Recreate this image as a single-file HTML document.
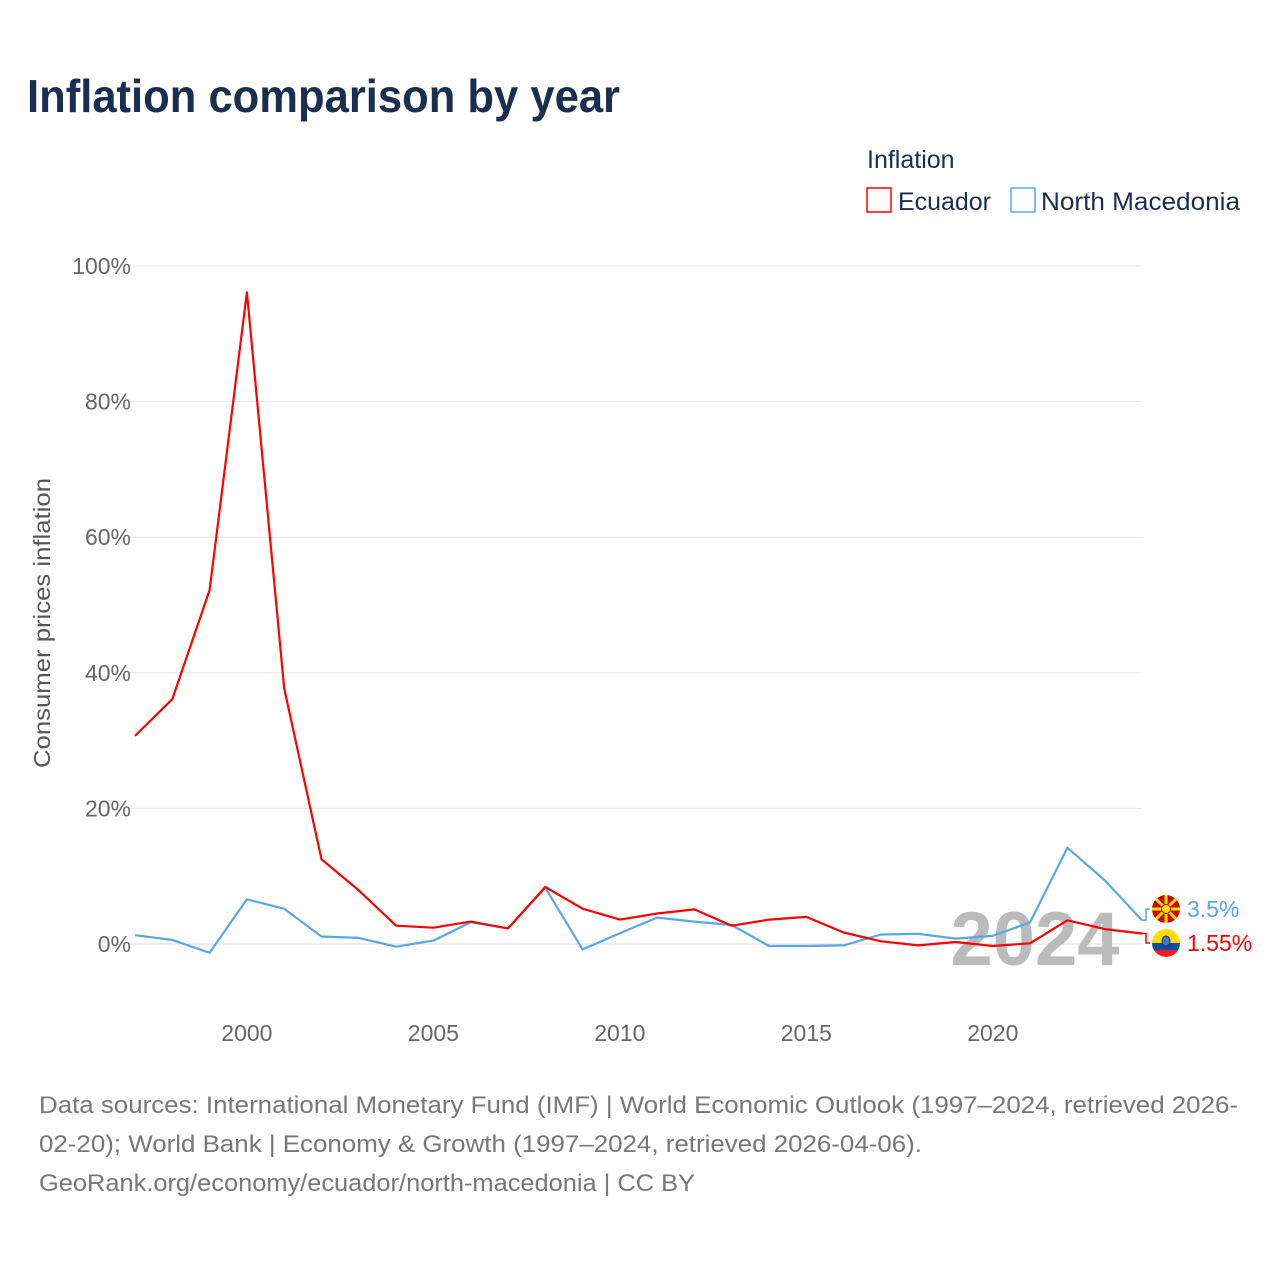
<!DOCTYPE html>
<html><head><meta charset="utf-8"><style>
body{margin:0;background:#fff;font-family:"Liberation Sans",sans-serif}
</style></head><body>
<svg width="1280" height="1280" xmlns="http://www.w3.org/2000/svg" font-family="Liberation Sans, sans-serif">
<rect width="1280" height="1280" fill="#fff"/>
<text x="27" y="112" font-size="46" font-weight="bold" fill="#1a2f50" textLength="593" lengthAdjust="spacingAndGlyphs">Inflation comparison by year</text>
<text x="867" y="168" font-size="25" fill="#1a2f50">Inflation</text>
<g><rect x="867" y="188" width="24" height="24" fill="none" stroke="#ff0000" stroke-width="1.5"/><text x="898" y="210" font-size="25" fill="#1a2f50" textLength="93" lengthAdjust="spacingAndGlyphs">Ecuador</text></g>
<g><rect x="1011" y="188" width="24" height="24" fill="none" stroke="#5aa6ea" stroke-width="1.5"/><text x="1041" y="210" font-size="25" fill="#1a2f50" textLength="199" lengthAdjust="spacingAndGlyphs">North Macedonia</text></g>
<text transform="translate(50,623) rotate(-90)" text-anchor="middle" font-size="23" fill="#555" textLength="290" lengthAdjust="spacingAndGlyphs">Consumer prices inflation</text>
<g id="grid"></g><g id="ylab"></g><g id="xlab"></g>
<text x="1035" y="965" text-anchor="middle" font-size="76" font-weight="bold" fill="#bbb">2024</text>
<g id="lines"></g>
<g><circle cx="1166" cy="909" r="14" fill="#d20000"/><g stroke="#ffe600" stroke-width="3"><line x1="1152" y1="909" x2="1180" y2="909"/><line x1="1166" y1="895" x2="1166" y2="923"/><line x1="1156" y1="899" x2="1176" y2="919"/><line x1="1176" y1="899" x2="1156" y2="919"/></g><circle cx="1166" cy="909" r="4.5" fill="#ffe600" stroke="#d20000" stroke-width="1"/></g>
<g><clipPath id="ec"><circle cx="1166" cy="943" r="14"/></clipPath><g clip-path="url(#ec)"><rect x="1150" y="929" width="32" height="14" fill="#ffdd00"/><rect x="1150" y="943" width="32" height="7" fill="#034ea2"/><rect x="1150" y="950" width="32" height="8" fill="#ed1c24"/></g><ellipse cx="1166" cy="941" rx="4" ry="5" fill="#3a7bd5" stroke="#333" stroke-width="1"/></g>
<text x="1187" y="917" font-size="23" fill="#5aa6ea">3.5%</text>
<text x="1187" y="951" font-size="23" fill="#ff0000">1.55%</text>
<g font-size="24" fill="#777">
<text x="39" y="1113" textLength="1199" lengthAdjust="spacingAndGlyphs">Data sources: International Monetary Fund (IMF) | World Economic Outlook (1997–2024, retrieved 2026-</text>
<text x="39" y="1152" textLength="883" lengthAdjust="spacingAndGlyphs">02-20); World Bank | Economy &amp; Growth (1997–2024, retrieved 2026-04-06).</text>
<text x="39" y="1191" textLength="656" lengthAdjust="spacingAndGlyphs">GeoRank.org/economy/ecuador/north-macedonia | CC BY</text>
</g>
</svg>
<script>
const years=[1997,1998,1999,2000,2001,2002,2003,2004,2005,2006,2007,2008,2009,2010,2011,2012,2013,2014,2015,2016,2017,2018,2019,2020,2021,2022,2023,2024];
const ecuador=[30.7,36.1,52.2,96.1,37.7,12.5,7.9,2.7,2.4,3.3,2.3,8.4,5.2,3.6,4.5,5.1,2.7,3.6,4.0,1.7,0.4,-0.2,0.3,-0.3,0.1,3.5,2.2,1.55];
const macedonia=[1.3,0.6,-1.3,6.6,5.2,1.1,0.9,-0.4,0.5,3.2,2.3,8.3,-0.8,1.6,3.9,3.3,2.8,-0.3,-0.3,-0.2,1.4,1.5,0.8,1.2,3.2,14.2,9.4,3.5];
const yTicks=[0,20,40,60,80,100];
const xTicks=[2000,2005,2010,2015,2020];
const NS="http://www.w3.org/2000/svg";
const X=y=>135+(y-1997)*(1142-135)/27;
const Y=v=>944-v*6.78;
function mk(t,a,p){const e=document.createElementNS(NS,t);for(const k in a)e.setAttribute(k,a[k]);document.getElementById(p).appendChild(e);return e;}
yTicks.forEach(t=>{
 const l=mk('line',{x1:128,x2:1142,y1:Y(t),y2:Y(t),stroke:t===0?'#ddd':'#e6e6e6','stroke-width':1},'grid');
 
 
 const tx=mk('text',{x:131,y:Y(t)+8,'text-anchor':'end','font-size':23,fill:'#666'},'ylab');
 tx.textContent=t+'%';
 
 
});
xTicks.forEach(t=>{
 const tx=mk('text',{x:X(t),y:1041,'text-anchor':'middle','font-size':23,fill:'#666'},'xlab');
 tx.textContent=t;
 
 
});
function line(vals,color,name){
 const d=vals.map((v,i)=>(i?'L':'M')+X(years[i]).toFixed(1)+','+Y(v).toFixed(1)).join(' ');
 const p=mk('path',{d:d,fill:'none',stroke:color,'stroke-width':2.2,'stroke-linejoin':'round'},'lines');
 
 
}
line(macedonia,'#5aa6ea','series-north-macedonia');
line(ecuador,'#ff0000','series-ecuador');
const lastM=Y(macedonia[macedonia.length-1]),lastE=Y(ecuador[ecuador.length-1]);
const c1=mk('path',{d:`M1142,${lastM} L1146,${lastM} L1146,909 L1150,909`,fill:'none',stroke:'#5aa6ea','stroke-width':1.5},'lines');


const c2=mk('path',{d:`M1142,${lastE} L1146,${lastE} L1146,943 L1150,943`,fill:'none',stroke:'#ff0000','stroke-width':1.5},'lines');


</script>
</body></html>
